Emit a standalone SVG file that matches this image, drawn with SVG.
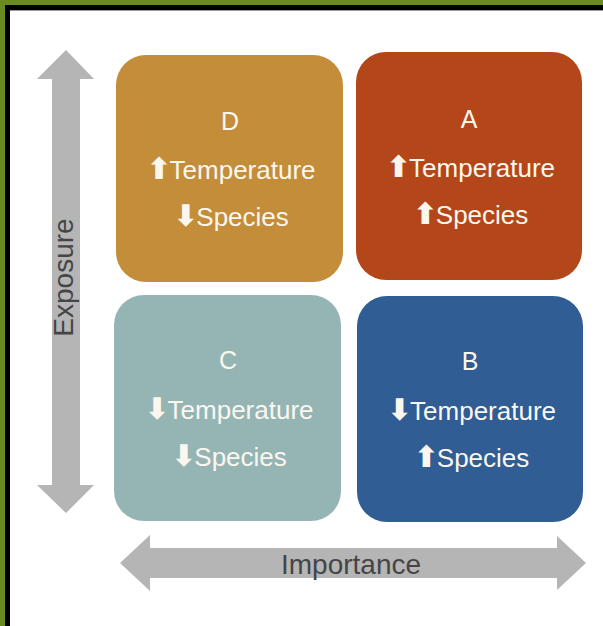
<svg xmlns="http://www.w3.org/2000/svg" width="603" height="626" viewBox="0 0 603 626">
<style>
.box-letter{font-family:"Liberation Sans",Arial,sans-serif;font-size:25px;fill:#fbf7ef;text-anchor:middle}
.box-line{font-family:"Liberation Sans",Arial,sans-serif;font-size:26px;fill:#fbf7ef;text-anchor:middle}
.arr{font-family:"DejaVu Sans",sans-serif;font-weight:bold;font-size:30px}
.axis{fill:#b5b5b5}
.axis-label{font-family:"Liberation Sans",Arial,sans-serif;font-size:28px;fill:#454545;text-anchor:middle}
</style>
<rect x="0" y="0" width="603" height="626" fill="#6b8b22"/>
<rect x="5" y="5" width="598" height="621" fill="#000"/>
<rect x="10" y="10" width="593" height="616" fill="#fff"/>
<line x1="10" y1="10.5" x2="603" y2="10.5" stroke="#9a9a9a" stroke-width="1"/>
<g id="connectors">
<g id="exposure-axis">
<polygon class="axis" points="66,50 94,79 80,79 80,485 94,485 66,513 37,485 52,485 52,79 37,79"/>
<text class="axis-label" transform="translate(73,277.5) rotate(-90)">Exposure</text>
</g>
<g id="importance-axis">
<polygon class="axis" points="120,563 150,535 150,548 557,548 557,536 586,563 557,590 557,578 150,578 150,591"/>
<text class="axis-label" x="351" y="574">Importance</text>
</g>
</g>
<g id="node-D">
<rect x="116" y="55" width="227" height="227" rx="30" fill="#c48d3a"/>
<text class="box-letter" x="230" y="130">D</text>
<text class="box-line" x="231" y="179"><tspan class="arr">⬆</tspan><tspan dx="-2">Temperature</tspan></text>
<text class="box-line" x="231" y="226"><tspan class="arr">⬇</tspan><tspan dx="-2">Species</tspan></text>
</g>
<g id="node-A">
<rect x="356" y="52" width="226" height="228" rx="30" fill="#b4471a"/>
<text class="box-letter" x="469" y="128">A</text>
<text class="box-line" x="470.5" y="177"><tspan class="arr">⬆</tspan><tspan dx="-2">Temperature</tspan></text>
<text class="box-line" x="470.5" y="224"><tspan class="arr">⬆</tspan><tspan dx="-2">Species</tspan></text>
</g>
<g id="node-C">
<rect x="114" y="295" width="227" height="226" rx="30" fill="#95b5b5"/>
<text class="box-letter" x="228" y="369">C</text>
<text class="box-line" x="229" y="419"><tspan class="arr">⬇</tspan><tspan dx="-2">Temperature</tspan></text>
<text class="box-line" x="229" y="466"><tspan class="arr">⬇</tspan><tspan dx="-2">Species</tspan></text>
</g>
<g id="node-B">
<rect x="357" y="296" width="226" height="226" rx="30" fill="#305d93"/>
<text class="box-letter" x="470" y="370">B</text>
<text class="box-line" x="471.5" y="420"><tspan class="arr">⬇</tspan><tspan dx="-2">Temperature</tspan></text>
<text class="box-line" x="471.5" y="467"><tspan class="arr">⬆</tspan><tspan dx="-2">Species</tspan></text>
</g>
</svg>
